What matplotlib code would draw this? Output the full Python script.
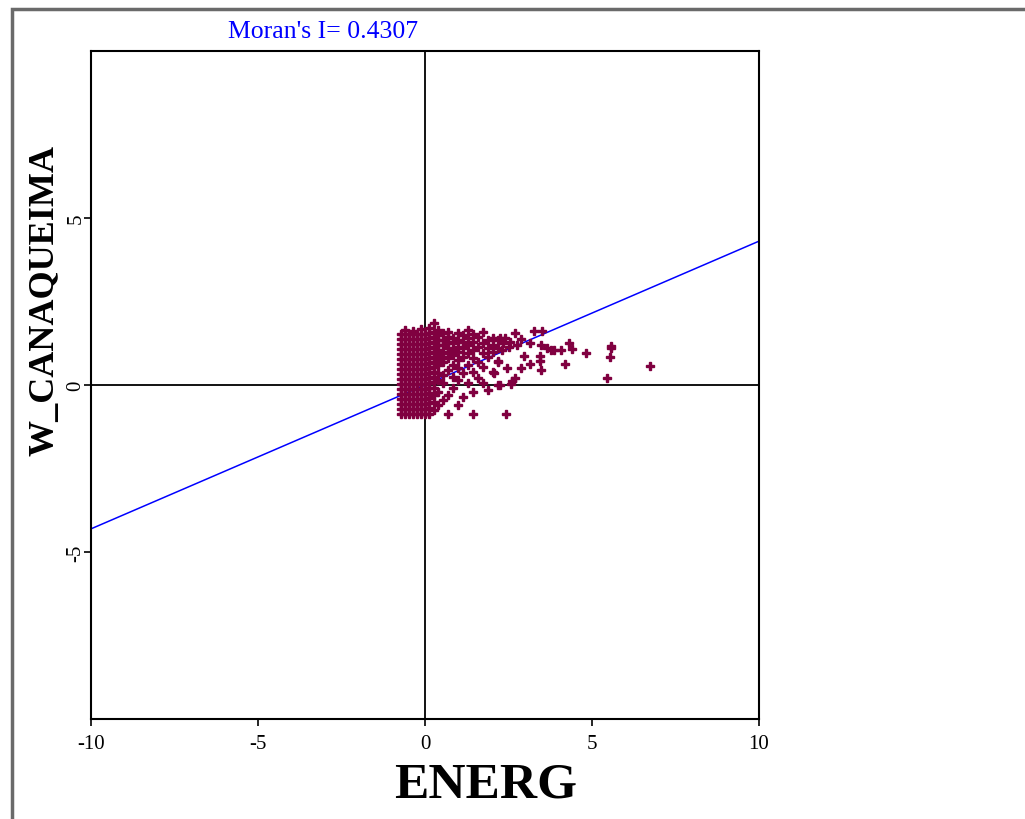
import matplotlib.pyplot as plt
from matplotlib.patches import Rectangle

# Moran scatterplot: ENERG vs spatial lag W_CANAQUEIMA
morans_i = 0.4307
x_ticks = [-10, -5, 0, 5, 10]
y_ticks = [-5, 0, 5]

# dense core of the cloud, read as columns (x, list of y)
core_columns = [
    (-0.72, [-0.87, -0.72, -0.57, -0.42, -0.27, -0.12, 0.03, 0.18, 0.33, 0.48, 0.63, 0.78, 0.93, 1.08, 1.23, 1.38, 1.53]),
    (-0.60, [-0.87, -0.72, -0.57, -0.42, -0.27, -0.12, 0.03, 0.18, 0.33, 0.48, 0.63, 0.78, 0.93, 1.08, 1.23, 1.38, 1.53, 1.66]),
    (-0.48, [-0.87, -0.72, -0.57, -0.42, -0.27, -0.12, 0.03, 0.18, 0.33, 0.48, 0.63, 0.78, 0.93, 1.08, 1.23, 1.38, 1.53]),
    (-0.36, [-0.87, -0.72, -0.57, -0.42, -0.27, -0.12, 0.03, 0.18, 0.33, 0.48, 0.63, 0.78, 0.93, 1.08, 1.23, 1.38, 1.53, 1.62]),
    (-0.24, [-0.87, -0.72, -0.57, -0.42, -0.27, -0.12, 0.03, 0.18, 0.33, 0.48, 0.63, 0.78, 0.93, 1.08, 1.23, 1.38, 1.53]),
    (-0.12, [-0.87, -0.72, -0.57, -0.42, -0.27, -0.12, 0.03, 0.18, 0.33, 0.48, 0.63, 0.78, 0.93, 1.08, 1.23, 1.38, 1.53, 1.68]),
    (0.00, [-0.87, -0.72, -0.57, -0.42, -0.27, -0.12, 0.03, 0.18, 0.33, 0.48, 0.63, 0.78, 0.93, 1.08, 1.23, 1.38, 1.53]),
    (0.12, [-0.87, -0.70, -0.55, -0.40, -0.25, -0.10, 0.05, 0.20, 0.35, 0.50, 0.65, 0.80, 0.95, 1.10, 1.25, 1.40, 1.55, 1.70]),
    (0.26, [-0.75, -0.50, -0.30, -0.10, 0.10, 0.25, 0.40, 0.55, 0.70, 0.85, 1.00, 1.15, 1.30, 1.45, 1.60, 1.86]),
    (0.40, [-0.60, -0.20, 0.15, 0.35, 0.60, 0.75, 0.90, 1.05, 1.20, 1.35, 1.50, 1.65]),
    (0.55, [-0.45, 0.05, 0.30, 0.70, 0.85, 1.00, 1.20, 1.35, 1.55]),
    (0.70, [-0.87, -0.30, 0.45, 0.80, 0.95, 1.10, 1.30, 1.45, 1.60]),
    (0.85, [-0.10, 0.25, 0.60, 0.90, 1.05, 1.25, 1.40]),
    (1.00, [-0.60, 0.15, 0.50, 0.75, 1.00, 1.15, 1.35, 1.55]),
    (1.15, [-0.35, 0.35, 0.85, 1.10, 1.30, 1.50]),
    (1.30, [0.05, 0.60, 0.95, 1.20, 1.40, 1.66]),
    (1.45, [-0.87, -0.20, 0.40, 0.80, 1.05, 1.30, 1.53]),
    (1.60, [0.20, 0.70, 1.15, 1.45]),
    (1.75, [0.05, 0.55, 0.95, 1.25, 1.60]),
    (1.90, [-0.15, 0.85, 1.10, 1.35]),
    (2.05, [0.40, 1.00, 1.20, 1.40]),
    (2.20, [0.00, 0.70, 1.10, 1.36]),
]

# sparse points to the right
outer_x = [2.24, 2.41, 2.68, 2.88, 3.14, 3.26, 3.51, 3.48, 3.66, 3.76, 3.86, 4.06,
           4.31, 4.41, 4.81, 2.96, 3.44, 3.44, 2.18, 3.14, 4.18, 2.46, 2.88, 3.48,
           2.06, 2.68, 2.61, 2.58, 2.26, 2.44, 5.58, 5.53, 6.75, 5.45, 5.58, 2.35,
           2.50, 2.30, 2.55, 2.75]
outer_y = [1.41, 1.41, 1.55, 1.38, 1.26, 1.61, 1.61, 1.19, 1.11, 1.06, 1.06, 1.06,
           1.26, 1.08, 0.96, 0.86, 0.86, 0.71, 0.71, 0.64, 0.64, 0.51, 0.51, 0.44,
           0.36, 0.21, 0.11, 0.04, 0.00, -0.87, 1.18, 0.83, 0.58, 0.21, 1.10, 1.25,
           1.15, 1.05, 1.30, 1.20]

xs = []
ys = []
for cx, col in core_columns:
    for cy in col:
        xs.append(cx)
        ys.append(cy)
xs += outer_x
ys += outer_y

serif = 'Liberation Serif'
maroon = '#800040'

fig = plt.figure(figsize=(10.25, 8.2), dpi=100)
ax = fig.add_axes([91 / 1025, 100 / 820, 668 / 1025, 668 / 820])

ax.axhline(0, color='black', lw=1.3, zorder=1)
ax.axvline(0, color='black', lw=1.3, zorder=1)
ax.plot([-10, 10], [-10 * morans_i, 10 * morans_i], color='#0000ff', lw=1.1, zorder=2)
ax.plot(xs, ys, 'P', color=maroon, mec=maroon, ms=5.5, mew=1.0, zorder=3)

ax.set_xlim(-10, 10)
ax.set_ylim(-10, 10)
ax.set_xticks(x_ticks)
ax.set_yticks(y_ticks)
ax.set_xticklabels([str(v) for v in x_ticks], fontfamily=serif, fontsize=15)
ax.set_yticklabels([str(v) for v in y_ticks], fontfamily=serif, fontsize=15,
                   rotation=90, va='center')
ax.tick_params(direction='out', length=5, width=1.2)
ax.tick_params(axis='x', pad=6)
ax.tick_params(axis='y', pad=-1)
for s in ax.spines.values():
    s.set_linewidth(1.5)

fig.text(323 / 1025, 1 - 32 / 820, "Moran's I= 0.4307", color='#0000ff',
         fontfamily=serif, fontsize=18.5, ha='center', va='center')
fig.text(486 / 1025, 1 - 786 / 820, 'ENERG', fontfamily=serif, fontsize=37,
         fontweight='bold', ha='center', va='center')
fig.text(45 / 1025, 1 - 300 / 820, 'W_CANAQUEIMA', fontfamily=serif, fontsize=26,
         fontweight='bold', rotation=90, ha='center', va='center')

# grey window frame
fig.patches.append(Rectangle((12 / 1025, -0.1), 1.5, 1.1 - 10 / 820, transform=fig.transFigure,
                             fill=False, edgecolor='#6a6a6a', lw=2.5))

fig.savefig('out.png', dpi=100)
